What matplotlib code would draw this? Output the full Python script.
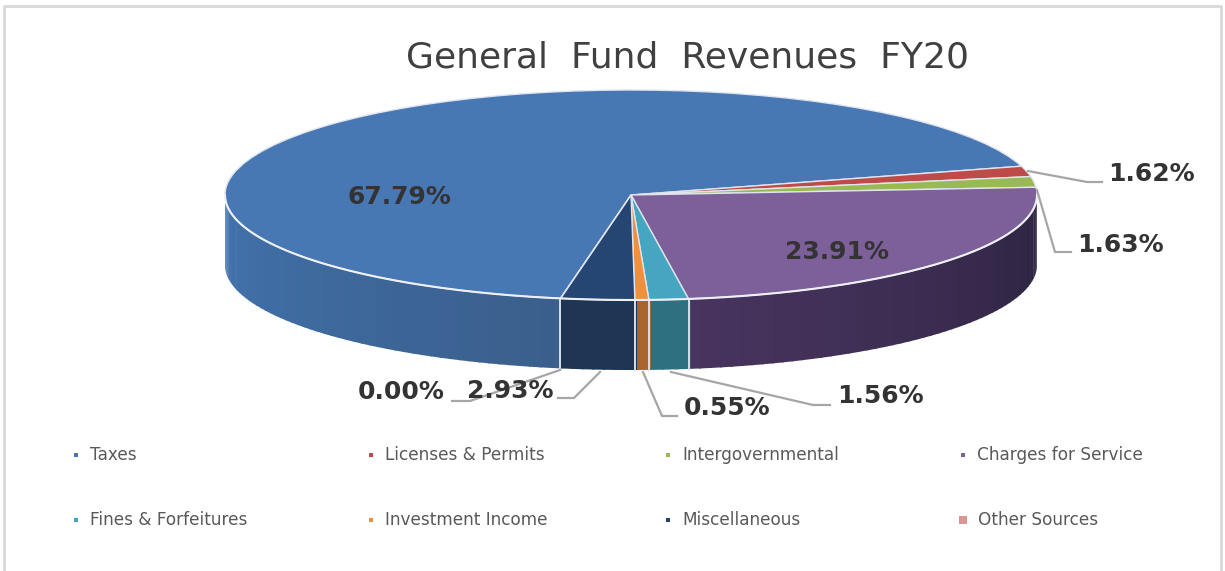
import numpy as np
import matplotlib
matplotlib.use("Agg")
import matplotlib.pyplot as plt

categories = ["Taxes", "Licenses & Permits", "Intergovernmental", "Charges for Service",
              "Fines & Forfeitures", "Investment Income", "Miscellaneous", "Other Sources"]
values = [67.79, 1.62, 1.63, 23.91, 1.56, 0.55, 2.93, 0.00]
labels = ["67.79%", "1.62%", "1.63%", "23.91%", "1.56%", "0.55%", "2.93%", "0.00%"]

top_colors = ["#4878b4", "#be4b48", "#98b954", "#7d5f9a", "#46a5c0", "#f0903c", "#254673", "#d99694"]
wall_left = ["#4274ae", "#8a3533", "#6e863c", "#48345f", "#2e7080", "#a8642a", "#1e3654", "#9c6a68"]
wall_right = ["#3a5f8c", "#8a3533", "#6e863c", "#2c2340", "#2e7080", "#a8642a", "#1e3654", "#9c6a68"]

# pixel geometry of the pie
W, H = 1225, 571
cx, cy = 631, 195
rx, ry = 406, 105
depth = 70
start = 260

fig = plt.figure(figsize=(W / 100, H / 100), dpi=100, facecolor="white")

ax = fig.add_axes([0, 0, 1, 1])
ax.pie(values, colors=top_colors, startangle=start, counterclock=False, radius=1,
       wedgeprops={"edgecolor": "#dfe4ee", "linewidth": 1.0, "zorder": 3})
ax.set_aspect("auto")
ax.set_xlim(-cx / rx, (W - cx) / rx)
ax.set_ylim(-(H - cy) / ry, cy / ry)
d = depth / ry

# side wall, only the front half of the ellipse shows
edges = (start - np.cumsum([0] + values) / sum(values) * 360) % 360
edges[0] = start
for i in range(len(values)):
    a1, a2 = edges[i], edges[i + 1]
    if i == 0:
        lo, hi = 180, a1
    elif a1 < a2:
        lo, hi = a2, 360
    else:
        lo, hi = a2, a1
    if hi <= lo or lo < 180:
        continue
    n = max(int((hi - lo) / 1.5), 1)
    steps = np.linspace(lo, hi, n + 1)
    c1 = np.array(matplotlib.colors.to_rgb(wall_left[i]))
    c2 = np.array(matplotlib.colors.to_rgb(wall_right[i]))
    for j in range(n):
        t = np.radians(np.linspace(steps[j], steps[j + 1] + 0.3, 4))
        xs = np.cos(t)
        ys = np.sin(t)
        f = j / max(n - 1, 1)
        ax.fill(np.r_[xs, xs[::-1]], np.r_[ys, ys[::-1] - d],
                color=c1 + (c2 - c1) * f, lw=0, zorder=1)
    for a in (lo, hi):
        if a not in (180, 360):
            r = np.radians(a)
            ax.plot([np.cos(r)] * 2, [np.sin(r), np.sin(r) - d], color="#d5dce8", lw=1.3, zorder=2)

t = np.radians(np.linspace(180, 360, 200))
ax.plot(np.cos(t), np.sin(t), color="#eef0f8", lw=1.5, zorder=4)

# overlay in pixels for the texts, leaders, legend and frame
ov = fig.add_axes([0, 0, 1, 1], facecolor="none")
ov.set_xlim(0, W)
ov.set_ylim(H, 0)
ov.axis("off")

ov.text(688, 57, "General  Fund  Revenues  FY20", ha="center", va="center",
        fontsize=26, color="#404040", family="DejaVu Sans")

leaders = [
    [(1028, 171), (1087, 182), (1102, 182)],
    [(1037, 190), (1055, 252), (1071, 252)],
    [(671, 372), (813, 405), (830, 405)],
    [(643, 372), (662, 416), (677, 416)],
    [(600, 372), (574, 398), (558, 398)],
    [(560, 370), (470, 401), (452, 401)],
]
for line in leaders:
    ov.plot(*zip(*line), color="#a6a6a6", lw=1.6, zorder=2)

label_pos = [(399, 197), (1151, 174), (1120, 245), (837, 252),
             (880, 396), (727, 408), (510, 391), (401, 392)]
for s, (x, y) in zip(labels, label_pos):
    ov.text(x, y, s, ha="center", va="center", fontsize=18, fontweight="bold",
            color="#333333", family="DejaVu Sans", zorder=3)

col_x = [76, 371, 668, 963]
row_y = [455, 520]
for i, name in enumerate(categories):
    x = col_x[i % 4]
    y = row_y[i // 4]
    size = 30 if i == 7 else 9
    ov.scatter([x], [y], marker="s", s=size, color=top_colors[i], lw=0)
    ov.text(x + (14 if i != 7 else 15), y, name, ha="left", va="center", fontsize=12.2,
            color="#595959", family="DejaVu Sans")

ov.plot([4, 4, 1221, 1221], [H, 6, 6, H], color="#d9d9d9", lw=2)

fig.savefig("out.png", dpi=100)
